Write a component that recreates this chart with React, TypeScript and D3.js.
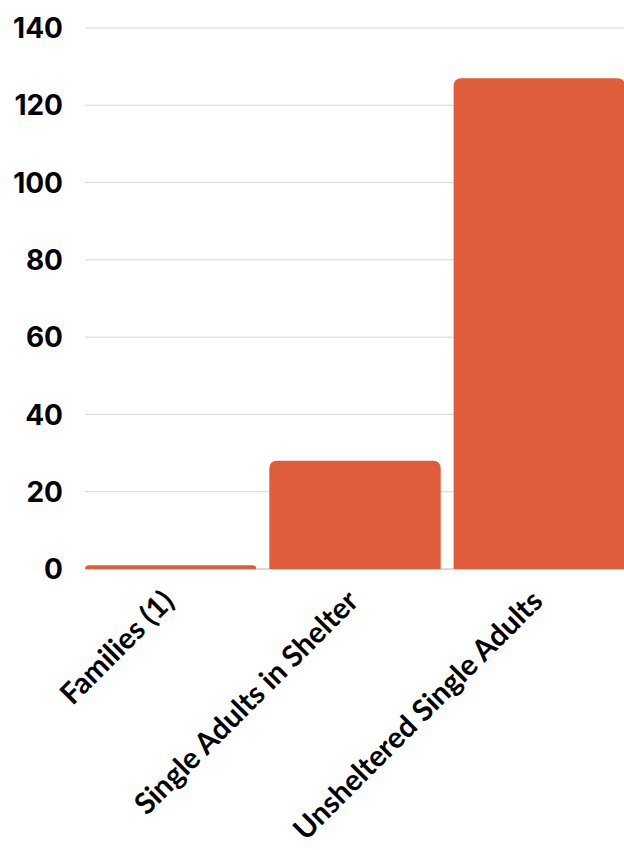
import React from "react";
import * as d3 from "d3";

const categories = ["Families (1)", "Single Adults in Shelter", "Unsheltered Single Adults"];
const values = [1, 28, 127];
const yTicks = [0, 20, 40, 60, 80, 100, 120, 140];

const W = 624;
const H = 850;
const margin = { left: 85, right: -1, top: 28, bottom: 281 };

function topRoundedRect(x: number, y: number, w: number, h: number, r: number) {
  const rr = Math.min(r, h, w / 2);
  return `M${x},${y + h}V${y + rr}Q${x},${y} ${x + rr},${y}H${x + w - rr}Q${x + w},${y} ${x + w},${y + rr}V${y + h}Z`;
}

export default function App() {
  const x = d3
    .scaleBand<string>()
    .domain(categories)
    .range([margin.left, W - margin.right])
    .paddingInner(0.07)
    .paddingOuter(0);
  const y = d3
    .scaleLinear()
    .domain([0, 140])
    .range([H - margin.bottom, margin.top]);

  return (
    <svg
      width={W}
      height={H}
      style={{ position: "absolute", left: 0, top: 0, background: "#fff" }}
    >
      <rect x={0} y={0} width={W} height={H} fill="#fff" />
      {yTicks.map((t) => (
        <g key={t}>
          <line
            x1={margin.left}
            x2={W}
            y1={y(t)}
            y2={y(t)}
            stroke={t === 0 ? "#b5b5b5" : "#d6d6d6"}
            strokeWidth={1}
          />
          <text
            x={63}
            y={y(t)}
            dy="0.36em"
            textAnchor="end"
            fontFamily="Inter, 'DejaVu Sans', sans-serif"
            fontWeight={700}
            fontSize={28}
            fill="#000"
          >
            {t}
          </text>
        </g>
      ))}
      {categories.map((c, i) => {
        const bx = x(c)!;
        const by = y(values[i]);
        return (
          <path
            key={c}
            d={topRoundedRect(bx, by, x.bandwidth(), y(0) - by, 8)}
            fill="#E05D3B"
          />
        );
      })}
      {categories.map((c) => {
        const cx = x(c)! + x.bandwidth() / 2 + 5;
        const cy = y(0) + 34;
        return (
          <text
            key={c}
            transform={`translate(${cx},${cy}) rotate(-45)`}
            textAnchor="end"
            fontFamily="Lato, 'Open Sans', sans-serif"
            fontWeight={700}
            fontSize={29.5}
            fill="#000"
          >
            {c}
          </text>
        );
      })}
    </svg>
  );
}
